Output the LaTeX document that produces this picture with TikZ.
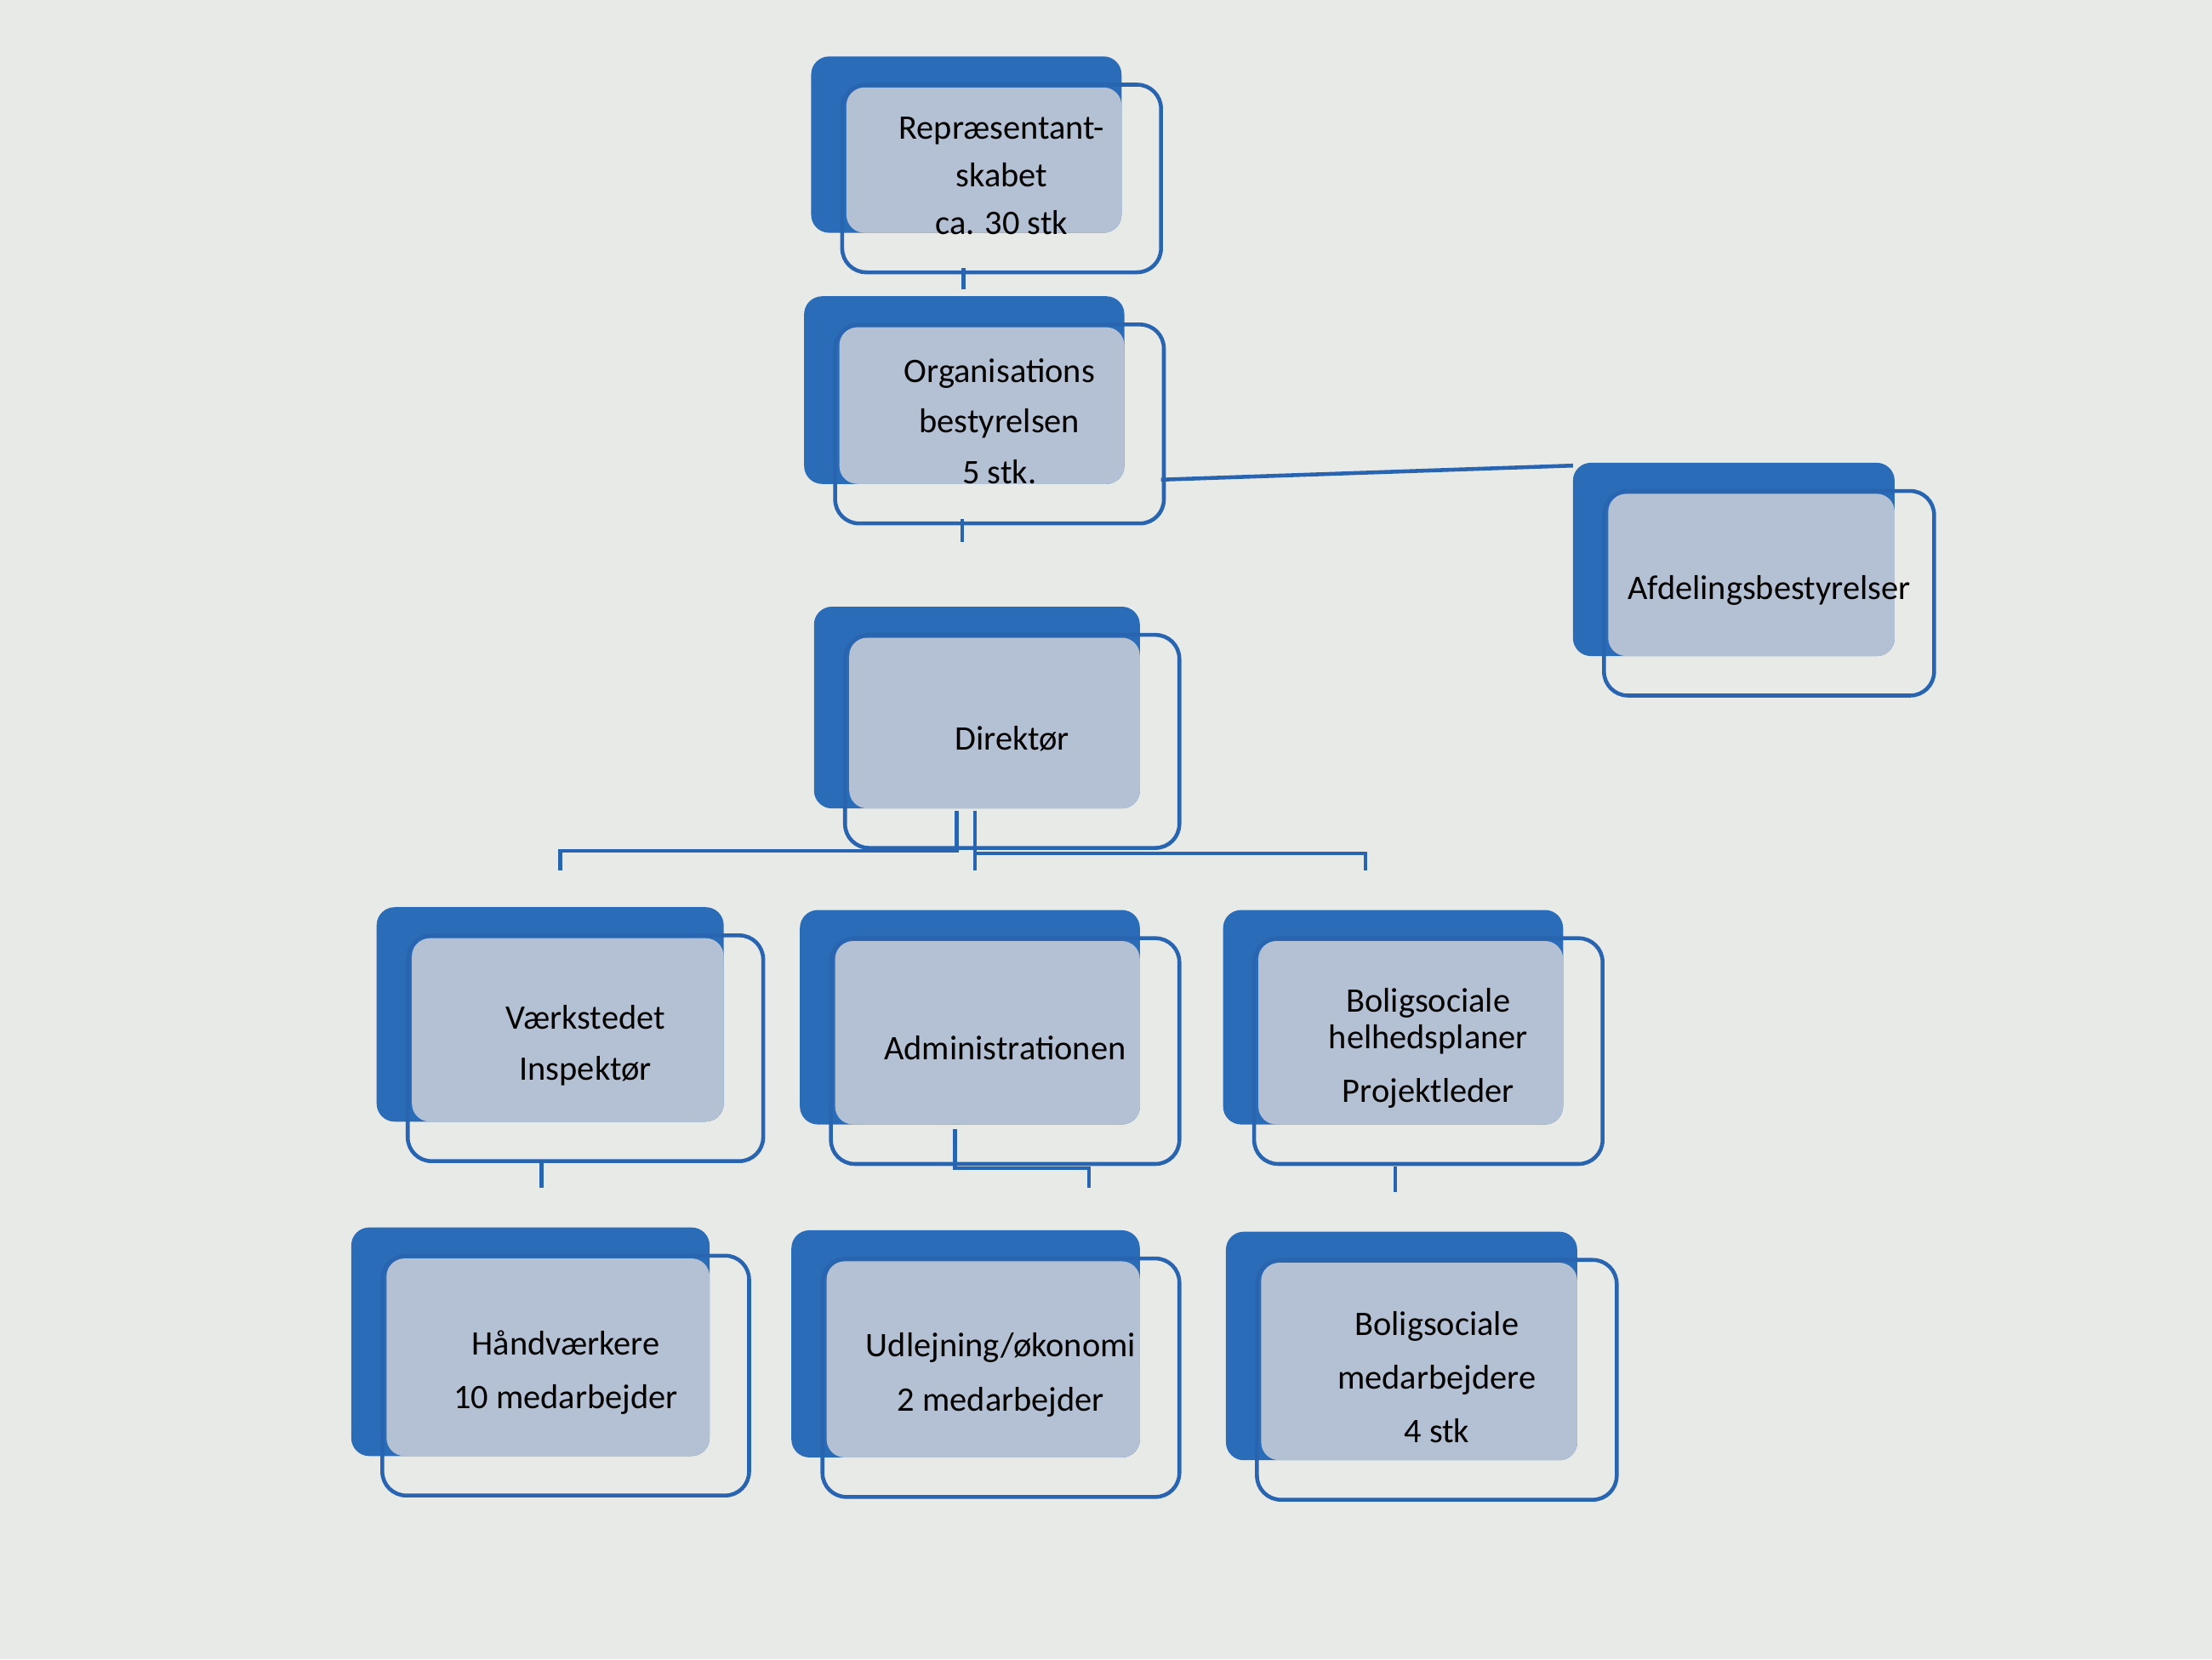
\documentclass[tikz,border=0pt]{standalone}
\usepackage{fontspec}
\setmainfont{Carlito}
\definecolor{backblue}{RGB}{42,108,184}
\definecolor{frontgray}{RGB}{196,202,214}
\definecolor{lineblue}{RGB}{40,100,176}
\definecolor{paper}{RGB}{232,234,232}
\tikzset{
  backbox/.style={fill=backblue, rounded corners=6},
  frontbox/.style={fill=frontgray, opacity=0.9, rounded corners=6},
  framebox/.style={draw=lineblue, line width=1.3pt, rounded corners=8},
  orgtext/.style={align=center, font=\fontsize{11.5}{16}\selectfont},
  link/.style={draw=lineblue, line width=1.3pt}
}
% #1 name, #2 x, #3 y (top-left of blue back), #4 width, #5 height, #6 text
\newcommand{\orgbox}[6]{
  \fill[backbox] (#2,#3) rectangle ++(#4,#5);
  \fill[frontbox] (#2+25,#3+22) rectangle (#2+#4,#3+#5);
  \draw[framebox] (#2+22,#3+20) rectangle (#2+#4+28,#3+#5+28);
  \node[orgtext] (#1) at (#2+#4/2+25,#3+#5/2+22) {#6};
}
\begin{document}
\begin{tikzpicture}[x=0.01658cm, y=-0.01658cm]
  \fill[paper] (0,0) rectangle (1568,1176);
  \useasboundingbox (0,0) rectangle (1568,1176);

  % top levels
  \orgbox{rep}{575}{40}{220}{125}{Repræsentant-\\skabet\\ca. 30 stk}
  \orgbox{org}{570}{210}{227}{133}{Organisations\\[1pt]bestyrelsen\\[1pt]5 stk.}
  \orgbox{afd}{1115}{328}{228}{137}{Afdelingsbestyrelser}
  \orgbox{dir}{577}{430}{231}{143}{Direktør}

  % middle row
  \orgbox{vaerk}{267}{643}{246}{152}{Værkstedet\\[1pt]Inspektør}
  \orgbox{adm}{567}{645}{241}{152}{Administrationen}
  \orgbox{bolig}{867}{645}{241}{152}{Boligsociale\\[-4pt]helhedsplaner\\[2pt]Projektleder}

  % bottom row
  \orgbox{hand}{249}{870}{254}{162}{Håndværkere\\[2pt]10 medarbejder}
  \orgbox{udl}{561}{872}{247}{161}{Udlejning/økonomi\\[2pt]2 medarbejder}
  \orgbox{bsm}{869}{873}{249}{162}{Boligsociale\\[2pt]medarbejdere\\[2pt]4 stk}

  % connectors
  \coordinate (repdown) at (683,205);
  \coordinate (orgdown) at (682,384);
  \coordinate (orgright) at (823,340);
  \coordinate (afdleft) at (1115,330);
  \draw[link] (683,190) -- (repdown);
  \draw[link] (682,368) -- (orgdown);
  \draw[link] (orgright) -- (afdleft);

  \draw[link] (678,575) -- (678,603) -- (397,603) -- (397,617);
  \draw[link] (691,575) -- (691,617);
  \draw[link] (691,605) -- (968,605) -- (968,617);

  \draw[link] (384,823) -- (384,842);
  \draw[link] (677,800) -- (677,828) -- (772,828) -- (772,842);
  \draw[link] (989,827) -- (989,845);
\end{tikzpicture}
\end{document}
